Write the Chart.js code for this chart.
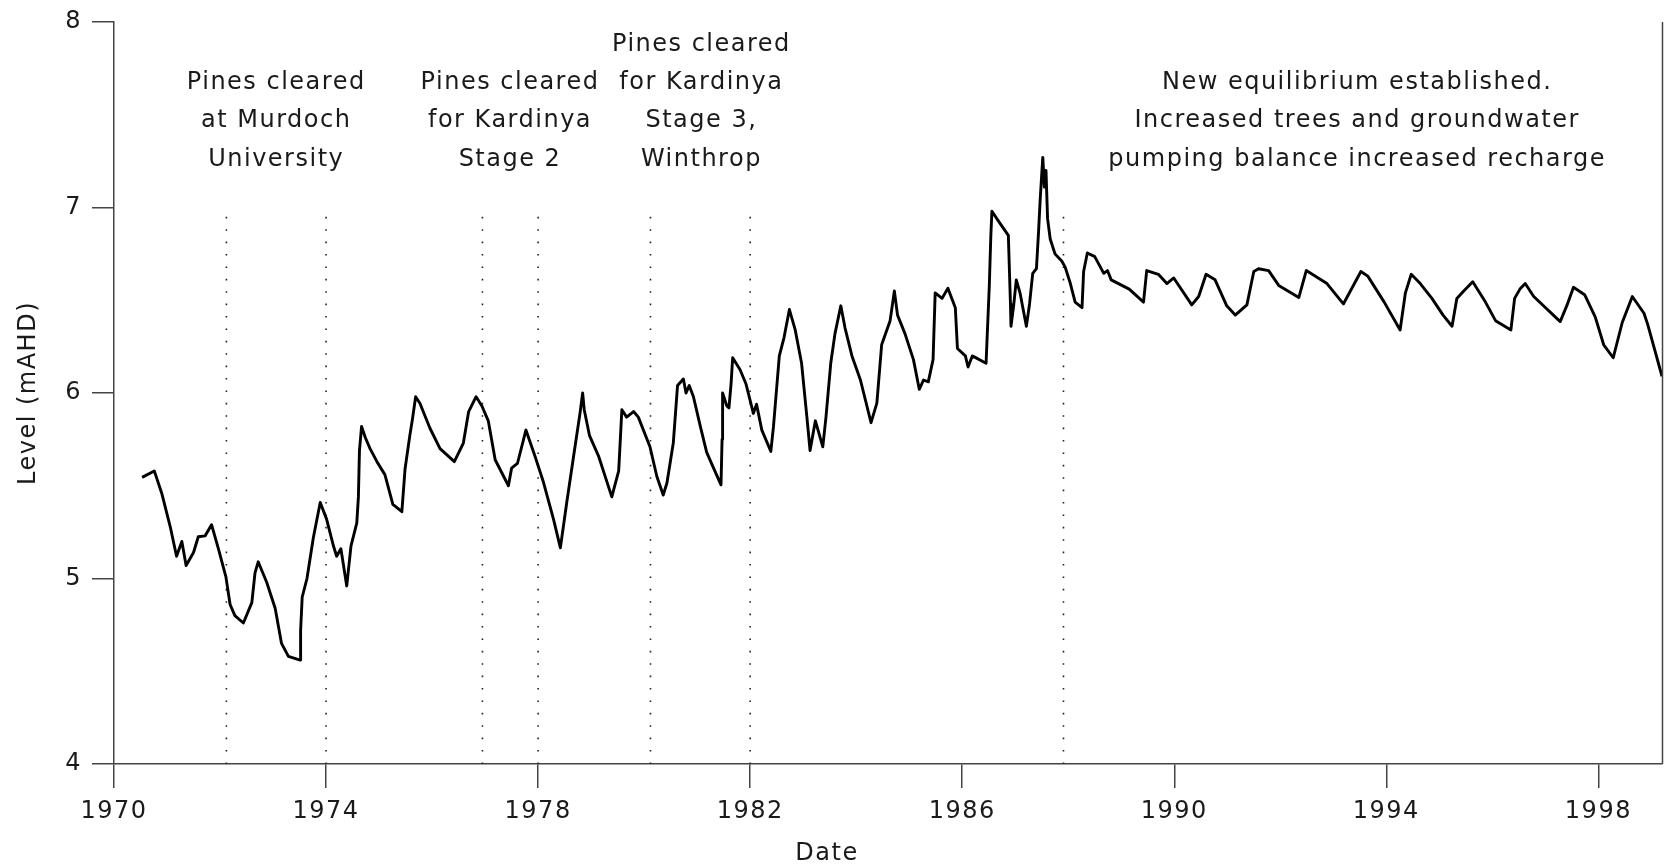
<!DOCTYPE html>
<html>
<head>
<meta charset="utf-8">
<script src="https://cdn.jsdelivr.net/npm/chart.js@4"></script>
<style>
  html,body{margin:0;padding:0;background:#fff;}
  canvas{display:block;}
</style>
</head>
<body>
<canvas id="chart" width="1667" height="864"></canvas>
<script>
// groundwater level
var dates = [1970.53,1970.76,1970.90,1971.06,1971.18,1971.28,1971.36,1971.50,1971.59,1971.72,1971.84,1971.97,
  1972.11,1972.19,1972.28,1972.44,1972.60,1972.66,1972.72,1972.88,1973.04,1973.16,1973.29,1973.51,1973.52,1973.55,
  1973.64,1973.76,1973.89,1974.01,1974.14,1974.20,1974.28,1974.39,1974.42,1974.47,1974.58,1974.61,1974.63,1974.67,
  1974.74,1974.83,1974.96,1975.11,1975.26,1975.43,1975.49,1975.58,1975.63,1975.69,1975.77,1975.96,1976.15,1976.42,
  1976.59,1976.69,1976.83,1976.94,1977.06,1977.19,1977.44,1977.50,1977.61,1977.77,1977.94,1978.10,1978.29,1978.42,
  1978.54,1978.67,1978.79,1978.84,1978.87,1978.97,1979.14,1979.39,1979.52,1979.58,1979.67,1979.80,1979.89,1980.11,
  1980.24,1980.36,1980.43,1980.55,1980.63,1980.74,1980.79,1980.85,1980.93,1981.06,1981.18,1981.31,1981.45,1981.47,
  1981.48,1981.56,1981.60,1981.64,1981.67,1981.81,1981.92,1982.06,1982.12,1982.22,1982.39,1982.44,1982.55,1982.64,
  1982.74,1982.85,1982.97,1983.07,1983.13,1983.23,1983.29,1983.37,1983.43,1983.52,1983.60,1983.71,1983.79,1983.92,
  1984.08,1984.28,1984.39,1984.48,1984.64,1984.72,1984.78,1984.92,1985.08,1985.19,1985.27,1985.36,1985.45,1985.49,
  1985.62,1985.73,1985.87,1985.91,1986.06,1986.11,1986.19,1986.45,1986.47,1986.51,1986.54,1986.56,1986.70,1986.87,
  1986.91,1986.92,1986.97,1987.02,1987.09,1987.21,1987.27,1987.33,1987.40,1987.44,1987.47,1987.50,1987.52,1987.55,
  1987.58,1987.61,1987.66,1987.75,1987.88,1987.94,1988.04,1988.13,1988.26,1988.29,1988.36,1988.50,1988.67,1988.74,
  1988.81,1989.15,1989.42,1989.48,1989.70,1989.86,1989.99,1990.33,1990.46,1990.60,1990.77,1990.99,1991.15,1991.37,
  1991.50,1991.59,1991.78,1991.97,1992.35,1992.49,1992.88,1993.19,1993.52,1993.65,1993.96,1994.26,1994.36,1994.47,
  1994.64,1994.86,1995.07,1995.24,1995.33,1995.46,1995.63,1995.87,1996.06,1996.35,1996.42,1996.52,1996.62,1996.78,
  1997.28,1997.41,1997.53,1997.74,1997.94,1998.10,1998.28,1998.45,1998.64,1998.86,1998.93,1999.20];
var levels = [5.545,5.58,5.46,5.28,5.12,5.20,5.07,5.14,5.225,5.23,5.29,5.16,
  5.01,4.86,4.80,4.76,4.87,5.03,5.09,4.98,4.84,4.65,4.58,4.56,4.72,4.90,
  5.00,5.22,5.41,5.32,5.175,5.12,5.16,4.96,5.04,5.175,5.30,5.44,5.69,5.82,
  5.76,5.70,5.63,5.56,5.40,5.36,5.59,5.77,5.86,5.98,5.945,5.81,5.70,5.63,
  5.73,5.90,5.98,5.93,5.85,5.64,5.50,5.595,5.62,5.80,5.66,5.52,5.32,5.165,
  5.41,5.66,5.89,6.00,5.91,5.77,5.66,5.44,5.58,5.91,5.87,5.90,5.87,5.71,
  5.55,5.45,5.515,5.73,6.04,6.075,6.00,6.04,5.98,5.82,5.68,5.595,5.505,5.75,
  6.00,5.93,5.92,6.05,6.19,6.125,6.05,5.89,5.94,5.80,5.685,5.82,6.20,6.30,
  6.45,6.34,6.16,5.87,5.69,5.85,5.79,5.71,5.87,6.16,6.32,6.47,6.35,6.20,
  6.07,5.84,5.945,6.26,6.39,6.55,6.42,6.32,6.18,6.02,6.07,6.06,6.18,6.54,
  6.51,6.565,6.46,6.24,6.20,6.14,6.20,6.16,6.30,6.57,6.85,6.98,6.92,6.85,
  6.48,6.36,6.47,6.61,6.54,6.36,6.48,6.645,6.67,6.87,7.04,7.18,7.27,7.11,
  7.20,6.94,6.83,6.75,6.71,6.68,6.59,6.49,6.46,6.655,6.755,6.735,6.645,6.66,
  6.61,6.56,6.49,6.66,6.64,6.59,6.62,6.475,6.52,6.64,6.61,6.47,6.42,6.475,
  6.655,6.67,6.66,6.58,6.515,6.66,6.59,6.48,6.655,6.63,6.49,6.34,6.54,6.64,
  6.59,6.51,6.42,6.36,6.51,6.55,6.60,6.49,6.39,6.34,6.51,6.56,6.59,6.52,
  6.385,6.475,6.57,6.53,6.41,6.26,6.19,6.38,6.52,6.43,6.37,6.09];

var xTicks = [1970,1974,1978,1982,1986,1990,1994,1998];
var yTicks = [4,5,6,7,8];

// dotted markers for the clearing events (from level 4 up to 7)
var markerYears = [1972.12,1974.0,1976.95,1978.0,1980.12,1982.0,1987.91];
var markerTop = 7;

var noteCenters = [1973.06,1977.47,1981.08,1993.45];
var noteLines = [
  ['Pines cleared','at Murdoch','University'],
  ['Pines cleared','for Kardinya','Stage 2'],
  ['Pines cleared','for Kardinya','Stage 3,','Winthrop'],
  ['New equilibrium established.','Increased trees and groundwater','pumping balance increased recharge']
];
var noteBase = 7.26; // level of the last line of each note

var FONT = 'DejaVu Sans';
var INK = '#1a1a1a', AXIS = '#444';

var pts = dates.map(function(d,i){return {x:d,y:levels[i]};});
var sets = [{data:pts,borderColor:'#000',borderWidth:2.9,pointRadius:0,tension:0,order:0,borderJoinStyle:'round'}];
markerYears.forEach(function(yr){
  sets.push({data:[{x:yr,y:4},{x:yr,y:markerTop}],borderColor:'#222',borderWidth:1.6,
    borderDash:[1.6,10.8],borderCapStyle:'butt',pointRadius:0,order:1});
});

var notes = {
  id:'notes',
  beforeDraw:function(c){c.ctx.letterSpacing='1.5px';},
  afterDraw:function(c){
    var ctx=c.ctx,xs=c.scales.x,ys=c.scales.y,a=c.chartArea;
    ctx.save();
    ctx.letterSpacing='1.5px';
    ctx.fillStyle=INK;ctx.font='24px "'+FONT+'"';ctx.textAlign='center';ctx.textBaseline='middle';
    noteLines.forEach(function(lines,k){
      var x=xs.getPixelForValue(noteCenters[k]),yb=ys.getPixelForValue(noteBase);
      lines.forEach(function(t,i){ctx.fillText(t,x,yb-(lines.length-1-i)*38.3);});
    });
    ctx.fillText('Date',xs.getPixelForValue(1983.45),xs.bottom-10);
    ctx.strokeStyle=AXIS;ctx.lineWidth=1.5;
    ctx.beginPath();ctx.moveTo(a.right+0.5,a.top);ctx.lineTo(a.right+0.5,a.bottom);ctx.stroke();
    ctx.restore();
  }
};

new Chart(document.getElementById('chart').getContext('2d'),{
  type:'line',
  data:{datasets:sets},
  plugins:[notes],
  options:{
    responsive:false,animation:false,devicePixelRatio:1,
    layout:{padding:{top:22,right:5,left:0,bottom:0}},
    plugins:{legend:{display:false},tooltip:{enabled:false}},
    scales:{
      x:{type:'linear',min:1970,max:1999.2,
        afterBuildTicks:function(s){s.ticks=xTicks.map(function(v){return {value:v};});},
        afterFit:function(s){s.height=100;s.paddingLeft=0;s.paddingRight=0;},
        ticks:{autoSkip:false,maxRotation:0,padding:9,color:INK,font:{family:FONT,size:24},
          callback:function(v){return String(v);}},
        grid:{display:true,drawOnChartArea:false,drawTicks:true,tickLength:24,color:AXIS,lineWidth:1.5},
        border:{display:true,color:AXIS,width:1.5}
      },
      y:{min:4,max:8,
        afterBuildTicks:function(s){s.ticks=yTicks.map(function(v){return {value:v};});},
        afterFit:function(s){s.width=114;s.paddingTop=0;s.paddingBottom=0;},
        ticks:{padding:10,color:INK,font:{family:FONT,size:24}},
        grid:{display:true,drawOnChartArea:false,drawTicks:true,tickLength:22,color:AXIS,lineWidth:1.5},
        border:{display:true,color:AXIS,width:1.5},
        title:{display:true,text:'Level (mAHD)',color:INK,font:{family:FONT,size:24},padding:{top:14,bottom:0}}
      }
    }
  }
});
</script>
</body>
</html>
